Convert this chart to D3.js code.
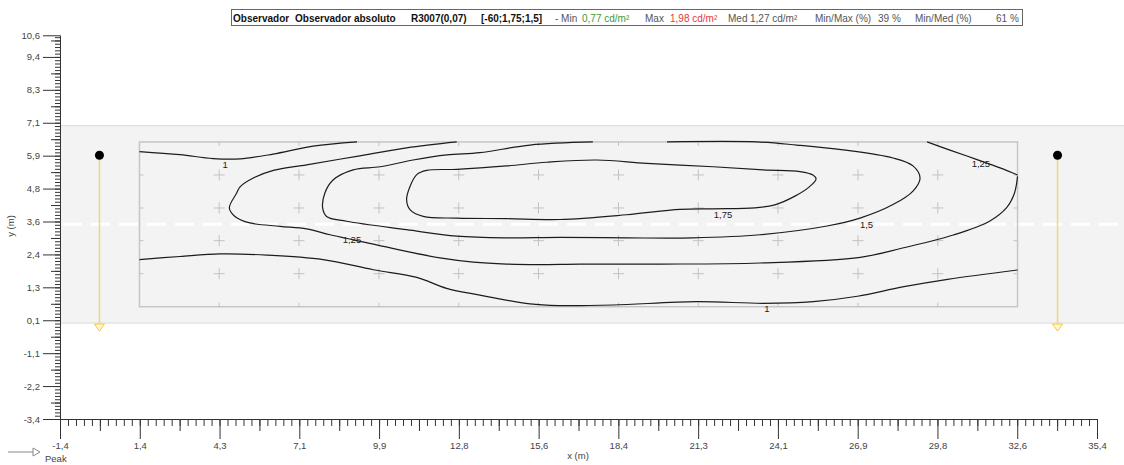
<!DOCTYPE html>
<html>
<head>
<meta charset="utf-8">
<script src="https://cdnjs.cloudflare.com/ajax/libs/d3/7.8.5/d3.min.js"></script>
<style>
body { margin: 0; background: #fff; }
svg { display: block; font-family: "Liberation Sans", Arial, sans-serif; }
</style>
</head>
<body>
<svg id="chart" width="1124" height="465"></svg>
<script>
// Axis ticks (m) and their labels
const xTickValues = [-1.4, 1.431, 4.262, 7.092, 9.923, 12.754, 15.585, 18.415, 21.246, 24.077, 26.908, 29.738, 32.569, 35.4]
const xTickLabels = ["-1,4", "1,4", "4,3", "7,1", "9,9", "12,8", "15,6", "18,4", "21,3", "24,1", "26,9", "29,8", "32,6", "35,4"]
const yTickValues = [-3.4, -2.233, -1.067, 0.1, 1.267, 2.433, 3.6, 4.767, 5.933, 7.1, 8.267, 9.433, 10.2]
const yTickLabels = ["-3,4", "-2,2", "-1,1", "0,1", "1,3", "2,4", "3,6", "4,8", "5,9", "7,1", "8,3", "9,4", "10,6"]

// Road and calculation grid (m)
const roadWidth = 7
const centerLine = 3.5
const gridBounds = { x0: 1.42, x1: 32.58, y0: 0.58, y1: 6.42 }
const gridX = [4.25, 7.08, 9.92, 12.75, 15.58, 18.42, 21.25, 24.08, 26.92, 29.75]
const gridY = [1.75, 2.92, 4.08, 5.25]

// Luminaires
const lumX = [0, 34]
const lumY = 5.95

// Isolines (cd/m2), traced in metres
const iso1Top = [[1.42, 6.08], [2.86, 5.97], [4.03, 5.83], [4.99, 5.82], [6.16, 5.99], [7.58, 6.27], [9.14, 6.42]]
const iso1Bottom = [[1.42, 2.25], [2.86, 2.36], [4.28, 2.45], [5.94, 2.41], [7.94, 2.25], [9.72, 1.89], [11.26, 1.62],
    [12.32, 1.23], [13.5, 0.99], [15.28, 0.68], [16.34, 0.62], [18.23, 0.64], [21.19, 0.76], [23.56, 0.7],
    [25.33, 0.76], [26.9, 0.95], [28.5, 1.28], [30.1, 1.55], [32.58, 1.88]]
const iso125Main = [[12.68, 6.42], [10.9, 6.21], [9.13, 5.91], [7.35, 5.61], [6.17, 5.41], [5.46, 5.14], [4.99, 4.83],
    [4.87, 4.61], [4.61, 4.08], [4.81, 3.78], [5.34, 3.55], [6.41, 3.43], [7.35, 3.34], [8.18, 3.13], [9.01, 2.95],
    [9.72, 2.8], [10.9, 2.54], [12.08, 2.31], [13.27, 2.16], [14.45, 2.09], [15.63, 2.07], [17.05, 2.09],
    [19.89, 2.09], [23.44, 2.13], [27.0, 2.33], [28.5, 2.66], [30.3, 3.12], [31.6, 3.62], [32.2, 4.1],
    [32.47, 4.6], [32.58, 5.2]]
const iso125Right = [[29.37, 6.42], [30.18, 6.13], [31.07, 5.82], [31.96, 5.5], [32.58, 5.25]]
const iso15 = [[17.51, 6.42], [15.28, 6.31], [13.5, 6.04], [12.33, 5.96], [11.13, 5.78], [9.96, 5.54], [9.0, 5.43],
    [8.29, 5.07], [8.0, 4.61], [7.92, 4.08], [8.06, 3.78], [8.77, 3.61], [10.9, 3.31], [12.68, 3.08], [14.45, 3.02],
    [16.34, 3.04], [18.72, 3.02], [21.06, 3.02], [23.44, 3.13], [25.82, 3.44], [26.99, 3.72], [28.16, 4.2],
    [28.87, 4.68], [29.12, 5.14], [28.87, 5.57], [28.16, 5.85], [26.39, 6.14], [24.75, 6.31], [23.33, 6.42],
    [20.14, 6.42]]
const iso175 = [[10.9, 4.37], [11.0, 4.79], [11.26, 5.26], [11.61, 5.41], [12.68, 5.45], [14.45, 5.57], [15.87, 5.7],
    [17.65, 5.78], [19.42, 5.66], [21.78, 5.54], [23.56, 5.43], [24.86, 5.37], [25.32, 5.25], [25.43, 5.11],
    [25.18, 4.82], [24.68, 4.5], [23.97, 4.19], [23.26, 4.08], [21.77, 4.05], [20.6, 4.03], [18.71, 3.84],
    [16.34, 3.67], [14.45, 3.7], [12.68, 3.72], [11.49, 3.78], [11.02, 4.02]]

// Isoline labels
const isoLabels = [
    { text: "1", x: 4.46, y: 5.6 },
    { text: "1,25", x: 8.96, y: 2.94 },
    { text: "1,75", x: 22.13, y: 3.83 },
    { text: "1,5", x: 27.22, y: 3.48 },
    { text: "1,25", x: 31.28, y: 5.64 },
    { text: "1", x: 23.69, y: 0.5 },
]

// Header texts
const titleParts = [
    { text: "Observador", x: 233, bold: true },
    { text: "Observador absoluto", x: 295, bold: true },
    { text: "R3007(0,07)", x: 411, bold: true },
    { text: "[-60;1,75;1,5]", x: 481, bold: true },
    { text: "- Min", x: 555 },
    { text: "0,77 cd/m²", x: 582, color: "#3c9a3c" },
    { text: "Max", x: 645 },
    { text: "1,98 cd/m²", x: 670, color: "#e23b3b" },
    { text: "Med", x: 728 },
    { text: "1,27 cd/m²", x: 750 },
    { text: "Min/Max (%)", x: 815 },
    { text: "39 %", x: 878 },
    { text: "Min/Med (%)", x: 915 },
    { text: "61 %", x: 996 },
]

const svg = d3.select("#chart")

const x = d3.scaleLinear().domain([-1.4, 35.4]).range([60, 1097])
const y = d3.scaleLinear().domain([-3.4, 10.6]).range([419, 24])

// Road band
const road = svg.append("g").attr("id", "road")
road.append("rect")
    .attr("x", 61).attr("y", y(roadWidth))
    .attr("width", 1124 - 61).attr("height", y(0) - y(roadWidth))
    .attr("fill", "#f3f3f3")
road.selectAll("line.edge")
    .data([0, roadWidth])
    .enter().append("line")
    .attr("class", "edge")
    .attr("x1", 61).attr("x2", 1124)
    .attr("y1", d => y(d)).attr("y2", d => y(d))
    .attr("stroke", "#dadada")
road.append("line")
    .attr("x1", 63).attr("x2", 1124)
    .attr("y1", y(centerLine)).attr("y2", y(centerLine))
    .attr("stroke", "#fff").attr("stroke-width", 3)
    .attr("stroke-dasharray", "19,9")

// Calculation grid
const grid = svg.append("g").attr("id", "grid")
grid.append("rect")
    .attr("x", x(gridBounds.x0)).attr("y", y(gridBounds.y1))
    .attr("width", x(gridBounds.x1) - x(gridBounds.x0))
    .attr("height", y(gridBounds.y0) - y(gridBounds.y1))
    .attr("fill", "none").attr("stroke", "#c6c6c6").attr("stroke-width", 1.5)

const pts = gridX.flatMap(gx => gridY.map(gy => [gx, gy]))
const crossArm = 5.5
grid.selectAll("path.cross")
    .data(pts)
    .enter().append("path")
    .attr("class", "cross")
    .attr("d", d => `M${x(d[0]) - crossArm},${y(d[1])}h${2 * crossArm}M${x(d[0])},${y(d[1]) - crossArm}v${2 * crossArm}`)
    .attr("stroke", "#c2c2c2").attr("fill", "none")

// small marks where the grid rows/columns meet the border
grid.selectAll("path.xmark")
    .data(gridX)
    .enter().append("path")
    .attr("class", "xmark")
    .attr("d", d => `M${x(d)},${y(gridBounds.y1)}v4M${x(d)},${y(gridBounds.y0)}v-4`)
    .attr("stroke", "#c2c2c2")
grid.selectAll("path.ymark")
    .data(gridY)
    .enter().append("path")
    .attr("class", "ymark")
    .attr("d", d => `M${x(gridBounds.x0)},${y(d)}h4M${x(gridBounds.x1)},${y(d)}h-4`)
    .attr("stroke", "#c2c2c2")

// Isolines
const line = d3.line().x(d => x(d[0])).y(d => y(d[1])).curve(d3.curveCatmullRom.alpha(0.5))
const closedLine = d3.line().x(d => x(d[0])).y(d => y(d[1])).curve(d3.curveCatmullRomClosed.alpha(0.5))
const iso = svg.append("g").attr("id", "isolines")
    .attr("fill", "none").attr("stroke", "#1c1c1c").attr("stroke-width", 1.2)
iso.selectAll("path.open")
    .data([iso1Top, iso1Bottom, iso125Main, iso125Right, iso15])
    .enter().append("path")
    .attr("class", "open")
    .attr("d", line)
iso.append("path").datum(iso175).attr("d", closedLine)

svg.append("g").attr("id", "isolabels")
    .selectAll("text")
    .data(isoLabels)
    .enter().append("text")
    .attr("x", d => x(d.x)).attr("y", d => y(d.y))
    .attr("dy", "0.35em")
    .attr("text-anchor", "middle")
    .attr("font-size", 9.5)
    .attr("fill", "#222")
    .text(d => d.text)

// Luminaires
const lum = svg.append("g").attr("id", "luminaires")
lum.selectAll("line")
    .data(lumX)
    .enter().append("line")
    .attr("x1", d => x(d)).attr("x2", d => x(d))
    .attr("y1", y(lumY)).attr("y2", y(0))
    .attr("stroke", "#f1d877").attr("stroke-width", 1.5)
lum.selectAll("path")
    .data(lumX)
    .enter().append("path")
    .attr("d", d => `M${x(d) - 5},${y(0) + 1}L${x(d) + 5},${y(0) + 1}L${x(d)},${y(0) + 8}Z`)
    .attr("fill", "#fff7d6").attr("stroke", "#f3c94a").attr("stroke-width", 1)
lum.selectAll("circle")
    .data(lumX)
    .enter().append("circle")
    .attr("cx", d => x(d)).attr("cy", y(lumY)).attr("r", 4.5)
    .attr("fill", "#000")

// Axes
const styleAxis = g => {
    g.selectAll("path.domain").attr("stroke", "#333")
    g.selectAll("line").attr("stroke", "#333")
    g.selectAll("text").attr("fill", "#444").attr("font-size", 9.5)
}

const xMinor = d3.range(-1.4, 35.41, 2.8308 / 10)
const xMid = d3.range(-1.4 + 2.8308 / 2, 35.4, 2.8308)
const xAxisG = svg.append("g").attr("transform", "translate(0,419)")
xAxisG.append("g").call(d3.axisBottom(x).tickValues(xMinor).tickSize(7).tickFormat("").tickSizeOuter(0)).call(styleAxis)
xAxisG.append("g").call(d3.axisBottom(x).tickValues(xMid).tickSize(12).tickFormat("").tickSizeOuter(0)).call(styleAxis)
xAxisG.append("g")
    .call(d3.axisBottom(x).tickValues(xTickValues).tickSize(20).tickPadding(3).tickSizeOuter(0)
        .tickFormat((d, i) => xTickLabels[i]))
    .call(styleAxis)

const yAxisScale = d3.scaleLinear().domain([-3.4, 10.2]).range([y(-3.4), y(10.2)])
const yMinor = d3.range(-3.4, 10.21, 1.16667 / 10)
const yMid = d3.range(-3.4 + 1.16667 / 2, 10.2, 1.16667)
const yAxisG = svg.append("g").attr("transform", "translate(60,0)")
yAxisG.append("g").call(d3.axisLeft(yAxisScale).tickValues(yMinor).tickSize(5).tickFormat("").tickSizeOuter(0)).call(styleAxis)
yAxisG.append("g").call(d3.axisLeft(yAxisScale).tickValues(yMid).tickSize(9).tickFormat("").tickSizeOuter(0)).call(styleAxis)
yAxisG.append("g")
    .call(d3.axisLeft(yAxisScale).tickValues(yTickValues).tickSize(17).tickPadding(3).tickSizeOuter(0)
        .tickFormat((d, i) => yTickLabels[i]))
    .call(styleAxis)

svg.append("text")
    .attr("x", 578).attr("y", 459)
    .attr("text-anchor", "middle").attr("font-size", 9.5).attr("fill", "#444")
    .text("x (m)")
svg.append("text")
    .attr("transform", "translate(14,226) rotate(-90)")
    .attr("text-anchor", "middle").attr("font-size", 9.5).attr("fill", "#444")
    .text("y (m)")

// Peak legend
const peak = svg.append("g").attr("id", "peak")
peak.append("line")
    .attr("x1", 8).attr("x2", 33).attr("y1", 452).attr("y2", 452)
    .attr("stroke", "#8a8a8a")
peak.append("path")
    .attr("d", "M33,448L40,452L33,456Z")
    .attr("fill", "#fff").attr("stroke", "#8a8a8a")
peak.append("text")
    .attr("x", 45).attr("y", 462)
    .attr("font-size", 9.5).attr("fill", "#444")
    .text("Peak")

// Header box
const head = svg.append("g").attr("id", "header")
head.append("rect")
    .attr("x", 231.5).attr("y", 9.5).attr("width", 791).attr("height", 16)
    .attr("fill", "#fff").attr("stroke", "#666")
head.selectAll("text")
    .data(titleParts)
    .enter().append("text")
    .attr("x", d => d.x).attr("y", 21.5)
    .attr("font-size", 10)
    .attr("font-weight", d => d.bold ? "bold" : "normal")
    .attr("fill", d => d.color || (d.bold ? "#111" : "#555"))
    .text(d => d.text)
</script>
</body>
</html>
